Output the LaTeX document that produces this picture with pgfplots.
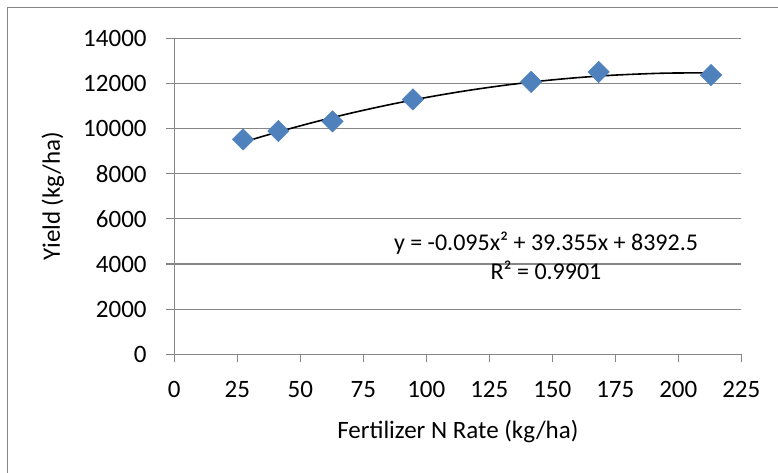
\documentclass[border=0pt]{standalone}
\usepackage{pgfplots}
\pgfplotsset{compat=1.18}
\usepackage{fontspec}
\setmainfont{Carlito}
\definecolor{xlblue}{HTML}{4F81BD}
\definecolor{xlgrid}{HTML}{868686}
\begin{document}
\fontsize{24bp}{29bp}\selectfont
\begin{tikzpicture}
\path[use as bounding box] (0,0) rectangle (778bp,473bp);
\draw[xlgrid, line width=1.2bp] (7.5bp,0) -- (7.5bp,465.5bp) -- (778bp,465.5bp);
\begin{axis}[
  at={(174.3bp,118.7bp)}, anchor=south west,
  scale only axis,
  width=567bp, height=316bp,
  xmin=0, xmax=225, ymin=0, ymax=14000,
  xtick={0,25,...,225},
  ytick={0,2000,...,14000},
  axis lines*=left,
  axis line style={xlgrid, line width=1.2bp},
  tick align=outside,
  major tick length=8bp,
  tick style={xlgrid, line width=1.2bp},
  ymajorgrids,
  grid style={xlgrid, line width=1.2bp},
  /pgf/number format/assume math mode=true,
  scaled y ticks=false,
  yticklabel style={/pgf/number format/1000 sep={}, inner sep=0pt, xshift=-19.5bp},
  xticklabel style={inner sep=0pt, yshift=-19bp},
  tick label style={font=\fontsize{25bp}{30bp}\selectfont},
  label style={font=\fontsize{25bp}{30bp}\selectfont},
  xlabel={Fertilizer N Rate (kg/ha)},
  xlabel style={at={(axis description cs:0.5,-0.265)}, anchor=base, inner sep=0pt},
  ylabel={Yield (kg/ha)},
  ylabel style={at={(axis description cs:-0.2016,0.5)}, anchor=base, inner sep=0pt},
  clip=false,
]
% trendline, points from y = -0.095x^2 + 39.355x + 8392.5
\addplot[black, line width=1.6bp, smooth, no markers] coordinates {
(28,9419.96) (40,9814.7) (55,10269.65) (70,10681.85) (85,11051.3)
(100,11378) (115,11661.95) (130,11903.15) (145,12101.6) (160,12257.3)
(175,12370.25) (190,12440.45) (200,12463.5) (213,12465.06)
};
\addplot[only marks, mark=square*, mark size=7.6bp,
  mark options={rotate=45, fill=xlblue, draw=xlblue}] coordinates {
(27.3,9520) (41.3,9890) (62.8,10320) (94.7,11290)
(141.6,12070) (168.4,12510) (213,12370)
};
\node[anchor=center, inner sep=0pt] at (axis cs:147.5,4936) {y = -0.095x² + 39.355x + 8392.5};
\node[anchor=center, inner sep=0pt] at (axis cs:147.5,3738) {R² = 0.9901};
\end{axis}
\end{tikzpicture}
\end{document}
